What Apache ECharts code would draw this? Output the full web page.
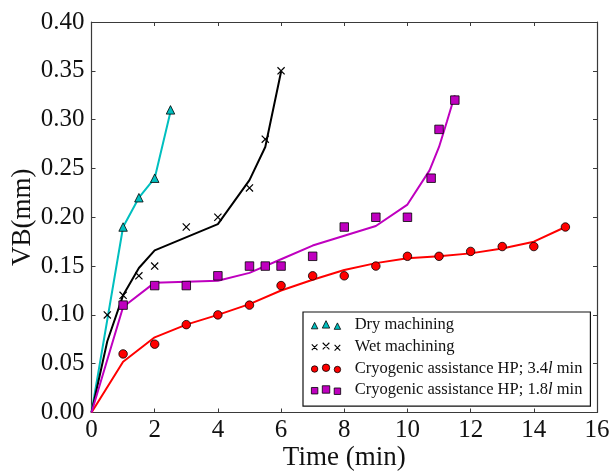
<!DOCTYPE html>
<html>
<head>
<meta charset="utf-8">
<script src="https://cdn.jsdelivr.net/npm/echarts@6/dist/echarts.min.js"></script>
<style>
html,body{margin:0;padding:0;background:#fff;}
#chart{width:610px;height:474px;}
</style>
</head>
<body>
<div id="chart"></div>
<script>
// ---- data ----
const dryTime = [1, 1.5, 2, 2.5];
const dryVB = [0.19, 0.22, 0.24, 0.31];
const dryFitTime = [0, 1, 1.5, 2, 2.5];
const dryFitVB = [0, 0.19, 0.22, 0.24, 0.308];

const wetTime = [0.5, 1, 1.5, 2, 3, 4, 5, 5.5, 6];
const wetVB = [0.10, 0.12, 0.14, 0.15, 0.19, 0.20, 0.23, 0.28, 0.35];
const wetFitTime = [0, 0.5, 1, 1.5, 2, 4, 5, 5.5, 6];
const wetFitVB = [0, 0.073, 0.12, 0.148, 0.166, 0.193, 0.238, 0.272, 0.349];

const cryo34Time = [1, 2, 3, 4, 5, 6, 7, 8, 9, 10, 11, 12, 13, 14, 15];
const cryo34VB = [0.06, 0.07, 0.09, 0.10, 0.11, 0.13, 0.14, 0.14, 0.15, 0.16, 0.16, 0.165, 0.17, 0.17, 0.19];
const cryo34FitTime = [0, 1, 2, 3, 4, 5, 6, 7, 8, 9, 10, 11, 12, 13, 14, 15];
const cryo34FitVB = [0, 0.052, 0.077, 0.09, 0.10, 0.111, 0.125, 0.136, 0.146, 0.153, 0.158, 0.160, 0.163, 0.168, 0.175, 0.19];

const cryo18Time = [1, 2, 3, 4, 5, 5.5, 6, 7, 8, 9, 10, 10.75, 11, 11.5];
const cryo18VB = [0.11, 0.13, 0.13, 0.14, 0.15, 0.15, 0.15, 0.16, 0.19, 0.20, 0.20, 0.24, 0.29, 0.32];
const cryo18FitTime = [0, 1, 2, 4, 5, 6, 7, 8, 9, 10, 10.7, 11, 11.25, 11.5];
const cryo18FitVB = [0, 0.108, 0.133, 0.135, 0.143, 0.157, 0.171, 0.181, 0.191, 0.213, 0.248, 0.272, 0.298, 0.325];

const xTicks = [0, 2, 4, 6, 8, 10, 12, 14, 16];
const yTicks = [0, 0.05, 0.10, 0.15, 0.20, 0.25, 0.30, 0.35, 0.40];

const names = ['Dry machining', 'Wet machining',
  'Cryogenic assistance HP; 3.4{i|l} min', 'Cryogenic assistance HP; 1.8{i|l} min'];

// ---- helpers ----
const pairs = (xs, ys) => xs.map((x, i) => [x, ys[i]]);
const SERIF = 'Liberation Serif';
const CYAN = '#00BFBF', MAG = '#BF00BF', RED = '#FF0000';

function f(n){ return (+n.toFixed(3)).toString(); }
function tri(cx, cy, s){ const h = s/2; return `M${f(cx-h)} ${f(cy+h)}L${f(cx)} ${f(cy-h)}L${f(cx+h)} ${f(cy+h)}Z`; }
function sq(cx, cy, s){ const h = s/2; return `M${f(cx-h)} ${f(cy-h)}L${f(cx+h)} ${f(cy-h)}L${f(cx+h)} ${f(cy+h)}L${f(cx-h)} ${f(cy+h)}Z`; }
function circ(cx, cy, s){ const r = s/2; return `M${f(cx-r)} ${f(cy)}A${f(r)} ${f(r)} 0 1 1 ${f(cx+r)} ${f(cy)}A${f(r)} ${f(r)} 0 1 1 ${f(cx-r)} ${f(cy)}Z`; }
function seg(x1, y1, x2, y2, w){
  const dx = x2-x1, dy = y2-y1, L = Math.hypot(dx, dy);
  const nx = -dy/L*w/2, ny = dx/L*w/2;
  return `M${f(x1+nx)} ${f(y1+ny)}L${f(x2+nx)} ${f(y2+ny)}L${f(x2-nx)} ${f(y2-ny)}L${f(x1-nx)} ${f(y1-ny)}Z`;
}
function cross(cx, cy, s, w){ const h = s/2 - w*0.36; return seg(cx-h, cy-h, cx+h, cy+h, w) + seg(cx-h, cy+h, cx+h, cy-h, w); }

// legend marker triplets (relative layout inside the icon)
const trip = [[3, 5, 6.5], [14.5, 3.75, 7.5], [26, 5.5, 6.5]];
const legendIcon = fn => 'path://' + trip.map(t => fn(t[0], t[1], t[2])).join('');
const xSymbol = 'path://' + cross(5, 5, 10, 1.5);

const chart = echarts.init(document.getElementById('chart'), null, {renderer: 'canvas'});

const axisCommon = {
  axisLine: {show: true, onZero: false, lineStyle: {color: '#3a3a3a', width: 1.2}},
  axisTick: {show: true, inside: true, length: 4, lineStyle: {color: '#3a3a3a', width: 1}},
  splitLine: {show: false}
};

const option = {
  animation: false,
  backgroundColor: '#fff',
  grid: {left: 91.5, top: 22, right: 13, bottom: 61.5, containLabel: false, outerBoundsMode: 'none'},
  xAxis: [
    Object.assign({
      type: 'value', min: 0, max: 16, interval: 2, position: 'bottom',
      name: 'Time (min)', nameLocation: 'middle', nameGap: 32, nameMoveOverlap: false,
      nameTextStyle: {fontFamily: SERIF, fontSize: 27, color: '#111'},
      axisLabel: {fontFamily: SERIF, fontSize: 25, color: '#111', margin: 5,
        formatter: v => xTicks.includes(v) ? String(v) : ''}
    }, axisCommon),
    Object.assign({
      type: 'value', min: 0, max: 16, interval: 2, position: 'top',
      axisLabel: {show: false}
    }, axisCommon)
  ],
  yAxis: [
    Object.assign({
      type: 'value', min: 0, max: 0.4, interval: 0.05, position: 'left',
      name: 'VB(mm)', nameLocation: 'middle', nameGap: 55, nameMoveOverlap: false,
      nameTextStyle: {fontFamily: SERIF, fontSize: 27, color: '#111'},
      axisLabel: {fontFamily: SERIF, fontSize: 25, color: '#111', margin: 7,
        formatter: v => yTicks.some(t => Math.abs(t - v) < 1e-9) ? v.toFixed(2) : ''}
    }, axisCommon),
    Object.assign({
      type: 'value', min: 0, max: 0.4, interval: 0.05, position: 'right',
      axisLabel: {show: false}
    }, axisCommon)
  ],
  legend: {
    orient: 'vertical', left: 303, top: 312,
    padding: [3, 8, 6, 8],
    backgroundColor: '#fff', borderColor: '#111', borderWidth: 1.2,
    itemWidth: 29.25, itemHeight: 8.75, itemGap: 1.7,
    textStyle: {fontFamily: SERIF, fontSize: 16.5, color: '#111', lineHeight: 20,
      padding: [0, 0, 0, 9],
      rich: {i: {fontFamily: SERIF, fontStyle: 'italic', fontSize: 16.5, lineHeight: 20}}},
    data: [
      {name: names[0], icon: legendIcon(tri), itemStyle: {color: CYAN, borderColor: '#000', borderWidth: 0.8}},
      {name: names[1], icon: 'path://' + trip.map(t => cross(t[0], t[1], t[2], 1.1)).join(''), itemStyle: {color: '#000', borderWidth: 0}},
      {name: names[2], icon: legendIcon(circ), itemStyle: {color: RED, borderColor: '#000', borderWidth: 0.8}},
      {name: names[3], icon: legendIcon(sq), itemStyle: {color: MAG, borderColor: '#000', borderWidth: 0.8}}
    ]
  },
  series: [
    {type: 'line', name: 'dryFit', data: pairs(dryFitTime, dryFitVB), showSymbol: false, symbol: 'none',
      lineStyle: {color: CYAN, width: 2}, itemStyle: {color: CYAN}, z: 2},
    {type: 'line', name: 'wetFit', data: pairs(wetFitTime, wetFitVB), showSymbol: false, symbol: 'none',
      lineStyle: {color: '#000', width: 2}, itemStyle: {color: '#000'}, z: 2},
    {type: 'line', name: 'c34Fit', data: pairs(cryo34FitTime, cryo34FitVB), showSymbol: false, symbol: 'none',
      lineStyle: {color: RED, width: 2}, itemStyle: {color: RED}, z: 2},
    {type: 'line', name: 'c18Fit', data: pairs(cryo18FitTime, cryo18FitVB), showSymbol: false, symbol: 'none',
      lineStyle: {color: MAG, width: 2}, itemStyle: {color: MAG}, z: 2},
    {type: 'scatter', name: names[0], data: pairs(dryTime, dryVB), symbol: 'triangle', symbolSize: 8.5,
      itemStyle: {color: CYAN, borderColor: '#000', borderWidth: 0.8, opacity: 1}, z: 3},
    {type: 'scatter', name: names[1], data: pairs(wetTime, wetVB), symbol: xSymbol, symbolSize: 8,
      itemStyle: {color: '#000', borderWidth: 0, opacity: 1}, z: 3},
    {type: 'scatter', name: names[2], data: pairs(cryo34Time, cryo34VB), symbol: 'circle', symbolSize: 8.5,
      itemStyle: {color: RED, borderColor: '#000', borderWidth: 0.8, opacity: 1}, z: 3},
    {type: 'scatter', name: names[3], data: pairs(cryo18Time, cryo18VB), symbol: 'rect', symbolSize: 8.5,
      itemStyle: {color: MAG, borderColor: '#000', borderWidth: 0.8, opacity: 1}, z: 3}
  ]
};
chart.setOption(option);
</script>
</body>
</html>
